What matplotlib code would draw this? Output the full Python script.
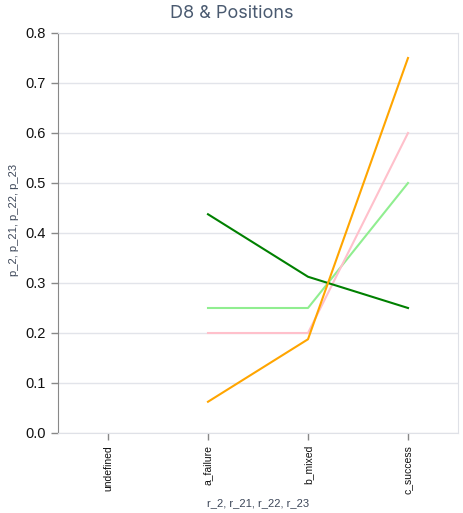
import matplotlib
matplotlib.use("Agg")
import matplotlib.pyplot as plt

categories = ["undefined", "a_failure", "b_mixed", "c_success"]
series_names = ["p_21", "p_22", "p_2", "p_23"]
series_values = {
    "p_21": [None, 0.25, 0.25, 0.5],
    "p_22": [None, 0.2, 0.2, 0.6],
    "p_2": [None, 0.4375, 0.3125, 0.25],
    "p_23": [None, 0.0625, 0.1875, 0.75],
}
series_colors = {
    "p_21": "lightgreen",
    "p_22": "pink",
    "p_2": "green",
    "p_23": "orange",
}
y_ticks = [0.0, 0.1, 0.2, 0.3, 0.4, 0.5, 0.6, 0.7, 0.8]

plt.rcParams["font.family"] = ["Liberation Sans", "DejaVu Sans"]

fig = plt.figure(figsize=(4.63, 5.13), dpi=100)
ax = fig.add_axes([58 / 463, 80 / 513, 400 / 463, 400 / 513])

x = list(range(len(categories)))
for name in series_names:
    vals = [float("nan") if v is None else v for v in series_values[name]]
    ax.plot(x, vals, color=series_colors[name], linewidth=1.5)

ax.set_xlim(-0.5, len(categories) - 0.5)
ax.set_ylim(0, 0.8)
ax.set_yticks(y_ticks)
ax.set_yticklabels([f"{t:.1f}" for t in y_ticks], fontsize=10.5)
ax.set_xticks(x)
ax.set_xticklabels(categories, rotation=90, fontsize=7.5)

ax.grid(True, axis="y", color="#e2e4ea", linewidth=1)
ax.set_axisbelow(True)
for side in ["top", "right", "bottom"]:
    ax.spines[side].set_color("#dfe1e7")
ax.spines["left"].set_color("#888888")
ax.tick_params(axis="both", colors="#888888", length=5, width=1)
ax.tick_params(axis="both", labelcolor="#111111")

ax.set_xlabel("r_2, r_21, r_22, r_23", fontsize=8, color="#3c4658", va="center")
ax.xaxis.set_label_coords(0.5, -70 / 400)
ax.set_ylabel("p_2, p_21, p_22, p_23", fontsize=8, color="#3c4658", va="center")
ax.yaxis.set_label_coords(-44 / 400, (433 - 220) / 400)
fig.text(0.5, 1 - 14 / 513, "D8 & Positions", ha="center", va="center",
         fontsize=13, color="#4a5a70", family=["Inter", "DejaVu Sans"])

fig.savefig("out.png", dpi=100)
